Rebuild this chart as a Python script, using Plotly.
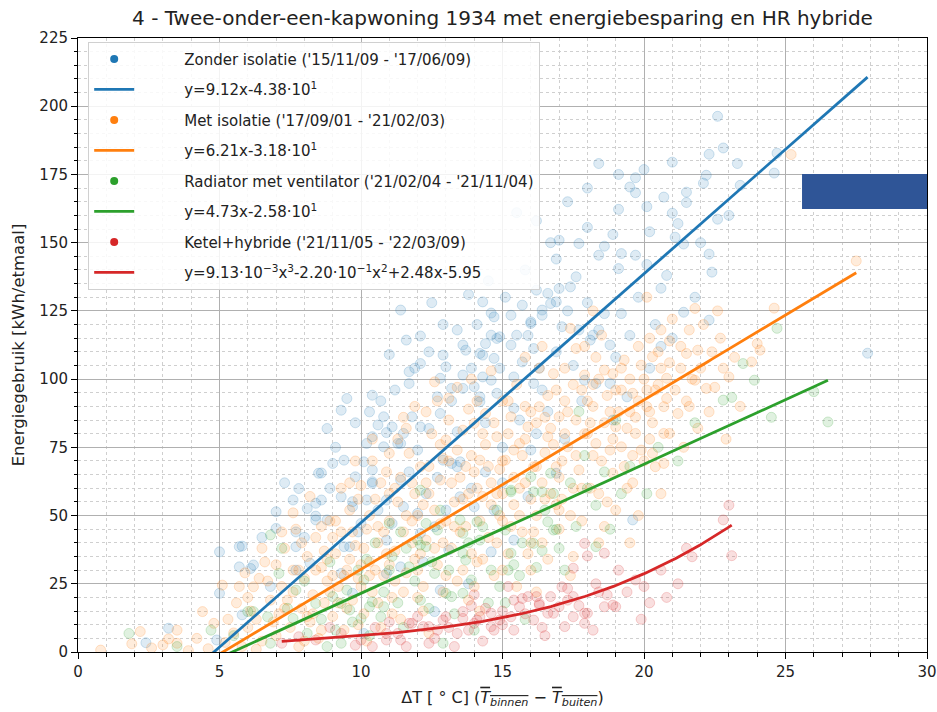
import plotly.graph_objects as go
import numpy as np

TITLE = "4 - Twee-onder-een-kapwoning 1934 met energiebesparing en HR hybride"

zonder_pts = [
    (22.6,196.3),(22.8,184.7),(22.3,182.4),(21.0,179.5),(23.3,179.0),(22.2,174.7),(22.1,171.8),(21.5,168.5),
    (21.5,164.7),(20.7,166.7),(23.4,171.0),(24.6,175.5),(24.7,182.8),(21.0,160.8),(21.2,157.0),(22.6,158.6),
    (21.1,152.0),(21.4,149.5),(22.3,145.8),(22.4,139.2),(20.8,138.0),(20.6,133.3),(21.4,124.5),(22.3,121.6),
    (27.9,109.5),(20.0,176.8),(19.7,173.8),(19.5,170.4),(19.7,168.3),(20.1,163.2),(19.1,162.2),(18.0,155.6),
    (18.9,153.0),(20.2,154.0),(16.7,150.0),(17.0,150.9),(17.7,149.7),(18.6,148.7),(18.4,145.4),(19.2,146.0),
    (19.7,145.4),(17.6,137.5),(19.1,140.5),(11.4,125.3),(14.3,128.3),(14.6,124.2),(14.7,122.8),(15.3,123.4),
    (15.7,127.1),(16.2,132.6),(16.6,131.4),(17.0,133.2),(17.4,133.8),(16.7,127.7),(16.0,120.4),(16.4,123.4),
    (17.1,119.2),(14.6,116.1),(15.5,116.1),(14.8,114.9),(11.6,114.3),(12.1,115.8),(13.6,112.5),(13.7,110.6),
    (12.9,108.8),(14.2,109.4),(14.7,107.6),(15.3,112.5),(15.7,106.3),(16.1,111.2),(12.1,105.7),(11.7,102.7),
    (11.7,98.4),(12.8,100.3),(13.2,96.6),(13.6,101.5),(14.3,100.8),(14.6,99.6),(15.4,100.8),(16.1,98.4),
    (16.4,96.0),(12.7,93.5),(13.2,92.0),(14.2,93.5),(14.8,94.8),(18.2,116.1),(18.4,118.0),(18.8,112.5),
    (18.1,114.3),(18.3,98.4),(18.8,98.4),(19.4,93.5),(17.9,99.6),(10.8,86.2),(11.1,82.5),(11.8,86.2),
    (12.8,87.4),(12.4,81.9),(11.3,76.4),(10.8,75.2),(13.4,80.7),(13.5,69.7),(12.9,70.3),(15.4,89.3),
    (15.6,85.0),(16.6,88.1),(13.0,104.5),(10.4,94.1),(9.5,92.9),(9.3,88.6),(8.8,81.9),(10.6,83.2),
    (10.9,80.4),(11.5,80.1),(10.4,78.9),(9.0,69.1),(9.4,70.3),(10.1,69.7),(10.4,62.4),(8.5,65.5),
    (7.6,55.7),(8.6,55.7),(8.1,52.6),(8.4,48.4),(7.0,45.3),(5.7,38.6),(5.0,36.7),(5.7,31.2),
    (6.2,31.9),(5.0,21.5),(5.8,13.6),(11.4,63.0),(10.9,55.7),(9.7,53.2),(11.5,53.2),(12.0,50.8),
    (10.0,47.1),(11.1,47.1),(9.6,38.6),(10.9,41.0),(11.4,31.2),(12.1,43.5),(12.6,45.9),(13.1,37.4),
    (14.7,52.0),(15.4,41.0),(14.6,36.7),(14.0,53.2),(13.5,56.9),(16.9,65.5),(19.6,48.4),(16.4,125.3),
    (16.9,128.3),(16.0,121.0),(14.9,115.5),(14.4,113.0),(14.3,108.8),(14.2,91.7),(14.0,97.2),(13.6,96.6),
    (12.1,82.5),(13.2,69.1),(13.4,67.9),(11.4,76.4),(10.2,76.4),(7.8,59.9),(7.0,51.4),(8.4,49.8),
    (7.7,44.0),(7.7,30.0),(9.3,28.8),(8.2,32.5),(10.9,28.8),(12.8,22.7),(9.7,21.5),(12.6,14.8),
    (5.8,38.8),(6.1,30.6),(2.4,3.4),(3.2,8.7),(4.9,4.4),(8.6,65.6),(9.8,64.2),(10.4,66.7),
    (8.4,54.5),(8.8,48.4),(7.7,38.6),(9.3,56.9),(9.7,55.1),(10.2,55.7),(10.4,61.8),(9.4,38.6),
    (10.1,6.8),(15.5,161.0),(16.2,158.0),(17.3,165.0),(18.4,179.0),(19.1,175.0),(18.0,170.0),(16.9,144.0),
    (15.8,140.0),(14.5,136.0),(13.8,131.0),(12.5,128.0),(11.0,109.0),(17.8,92.0),(18.9,85.0),(17.2,78.0),
    (16.0,74.0),(15.0,62.0),(13.9,60.0),(12.3,58.0),(17.5,105.0),(16.9,110.0),(20.4,120.0),(19.8,130.0),
    (19.2,124.0),(18.0,128.0),(20.1,142.0),(14.4,84.0),(12.2,33.0),(13.8,25.0),(15.9,57.0),
    (8.9,60.0),(9.1,75.0),(9.8,84.0),(10.3,88.0),(10.7,92.0),(11.2,96.0),(11.9,104.0),(12.4,110.0),
    (12.9,120.0),(13.4,118.0),(13.9,104.0),(14.1,120.0),(14.9,104.0),(15.1,130.0),(15.9,116.0),(16.3,104.0),
    (17.3,125.0),(17.7,118.0),(18.6,124.0),(19.0,108.0),(19.5,116.0),(20.2,104.0),(20.6,112.0),(21.0,115.0),
    (21.8,130.0),(22.0,150.0),(23.0,160.0),(12.0,74.0),(12.7,64.0),(13.0,52.0),(14.4,66.0),(15.0,75.0),
    (16.2,80.0),(11.7,66.0),(10.6,52.0),(9.9,44.0),(8.0,42.0),(6.5,42.0),(6.8,24.0),(7.3,62.0),
]

met_pts = [
    (0.8,0.7),(1.9,3.0),(2.6,1.5),(3.0,2.6),(3.5,3.2),(3.5,8.0),(4.2,5.0),(4.4,14.8),(4.6,1.2),(3.9,0.5),
    (5.1,24.5),(4.8,10.5),(5.2,3.5),(2.2,7.5),(3.2,4.8),
    (5.3,12),(5.5,7),(5.6,18),(5.8,2),(6.0,9),(6.2,23.9),(6.4,27),(6.1,15),(6.5,4),(6.6,33),(6.8,19),
    (6.9,11),(5.9,29),(6.3,1),
    (7.0,6),(7.1,14),(7.2,24),(7.3,38),(7.4,19),(7.5,9),(7.6,30),(7.7,45),(7.8,2),(7.9,16),(8.0,27),
    (8.1,35),(8.2,11),(8.3,21),(8.4,42),(8.5,5),(8.6,31),(8.7,18),(8.8,26),(8.9,48),(8.2,57),(8.6,8),(7.6,51),
    (9.0,13),(9.1,36),(9.2,24),(9.3,44),(9.4,8),(9.5,30),(9.6,52),(9.7,19),(9.8,39),(9.9,27),(10.0,61),
    (10.1,14),(10.2,45),(10.3,33),(10.4,22),(10.5,56),(10.6,40),(10.7,9),(10.8,28),(10.9,66),(11.0,48),
    (9.3,60),(10.2,4),(9.8,70),(10.6,18),
    (11.0,72.8),(11.1,20),(11.2,37),(11.3,55),(11.4,12),(11.5,44),(11.6,29),(11.7,72.8),(11.8,62),(11.9,34),
    (12.0,50),(12.1,67.9),(12.2,24),(12.3,41),(12.4,58),(12.5,80),(12.6,99),(12.7,32),(12.8,47),(12.9,71),
    (13.0,77.7),(13.1,85),(11.5,86),(12.2,15),(12.8,63),(11.9,90),(12.4,7),
    (13.2,38),(13.3,55),(13.4,26),(13.5,64),(13.6,81.3),(13.7,46),(13.8,19),(13.9,72),(14.0,83.8),(14.1,33),
    (14.2,70.3),(14.3,57),(14.4,87.4),(14.5,42),(14.6,62),(14.7,28),(14.8,78.9),(14.9,50),(15.0,92),
    (13.4,97),(14.2,15),(14.6,103),(13.8,89),(14.9,67),
    (15.1,70.3),(15.2,36),(15.3,86.2),(15.4,54),(15.5,24),(15.6,76.4),(15.7,44),(15.8,62),(15.9,82.5),
    (16.0,30),(16.1,67.9),(16.2,50),(16.3,89.9),(16.4,40),(16.5,73),(16.6,78.9),(16.7,58),(16.8,102),
    (16.9,67.9),(17.0,86.2),(15.5,98),(16.2,22),(15.8,108),(16.6,94),(17.0,45),
    (17.1,56),(17.2,80),(17.3,75.2),(17.4,118.6),(17.5,35),(17.6,85),(17.6,111.2),(17.7,66.7),(17.8,48),
    (17.9,101.5),(18.0,92),(18.1,60),(18.2,72),(18.3,76.4),(18.4,40),(18.5,116.1),(18.6,103.3),(18.7,55),
    (18.8,88),(18.9,65.5),(18.9,102),(19.0,82.5),(17.4,28),(18.2,125),(18.6,46),
    (19.2,75.2),(19.2,96),(19.3,107),(19.4,60),(19.5,88),(19.6,94.8),(19.7,80.1),(19.8,50),(19.9,105.1),
    (20.0,70),(20.1,89.9),(20.2,115),(20.3,72.8),(20.3,108.2),(20.4,67.9),(20.5,98),(20.6,58),(20.7,89.9),
    (20.7,80.1),(20.7,69.1),(20.8,92.9),(20.8,100.3),(20.9,80.1),(21.0,122),(19.5,40),(20.1,130),
    (21.2,87.4),(21.5,109.4),(21.6,118),(21.8,125.9),(21.8,99.6),(21.9,110.6),(22.2,96.6),(22.4,110),
    (22.6,125),(23.0,100.8),(23.4,90),(23.8,106.3),(24.0,113),(24.1,110.6),(24.6,126),(25.2,182.3),
    (27.5,143.3),(22.9,78),(21.4,75),
    (6.0,20),(6.3,12),(6.7,26),(7.0,32),(7.3,16),(7.6,22),(7.9,40),(8.1,13),(8.4,30),(8.7,37),
    (8.9,22),(8.0,4),(7.2,44),(6.5,38),(5.7,24),
    (9.1,48),(9.4,28),(9.6,34),(9.9,56),(10.1,38),(10.3,50),(10.5,30),(10.8,44),(11.0,58),(11.2,26),
    (11.4,64),(11.6,50),(11.8,40),(9.2,18),(10.0,24),(10.7,62),(11.3,78),(11.9,58),(9.7,44),(10.4,70),
    (11.1,14),(12.0,30),
    (12.2,54),(12.4,68),(12.6,38),(12.8,76),(13.0,48),(13.2,62),(13.4,74),(13.6,30),(13.8,58),(14.0,66),
    (14.2,48),(14.4,76),(14.6,54),(14.8,40),(15.0,70),(12.3,88),(13.1,93),(13.5,44),(14.1,92),(14.7,84),
    (12.9,22),(13.7,68),(14.3,34),(15.0,58),
    (15.2,80),(15.4,64),(15.6,50),(15.8,90),(16.0,56),(16.2,84),(16.4,62),(16.6,34),(16.8,76),(17.0,64),
    (17.2,92),(17.4,50),(17.6,72),(17.8,96),(15.3,46),(16.1,44),(16.9,54),(17.5,60),(15.7,72),(16.5,86),
    (17.9,80),(15.9,36),(16.3,104),
    (18.1,84),(18.3,108),(18.5,70),(18.7,94),(18.9,78),(19.1,88),(19.3,68),(19.5,100),(19.7,86),(19.9,74),
    (20.1,96),(20.3,84),(20.5,110),(18.4,58),(19.0,52),(19.6,62),(20.2,78),(20.6,118),(20.9,106),(18.2,98),
    (19.8,112),
    (21.1,96),(21.3,104),(21.6,90),(22.0,104),(22.3,88),(22.7,115),(21.9,82),(23.2,108),(22.5,97),
    (8.3,14),(8.8,34),(9.0,42),(9.5,16),(9.9,10),(10.3,28),(10.6,46),(10.9,36),(11.2,60),(11.5,22),
    (11.8,48),(12.1,36),(12.3,62),(12.6,52),(12.9,40),(13.1,70),(13.3,46),(13.6,56),(13.9,36),(14.1,60),
    (14.3,80),(14.5,68),(14.8,58),(15.0,48),(15.2,92),(15.4,74),(15.6,60),(15.8,78),(16.0,88),(16.2,68),
    (16.5,56),(16.7,82),(16.9,96),(17.1,70),(17.3,88),(17.5,98),(17.8,60),(18.0,80),(18.2,90),(18.4,100),
    (18.6,84),(18.8,74),(19.0,96),(19.2,104),(19.4,82),(19.6,72),(19.8,92),(20.0,100),(20.2,88),(20.4,96),
    (20.6,104),(12.0,20),(13.0,28),(14.0,24),(15.0,30),(16.0,40),(17.0,52),(11.0,32),(10.0,32),(9.0,28),
    (7.8,30),(8.6,46),(9.6,62),(10.4,78),(11.6,82),(12.7,92),(13.9,100),(16.4,112),(17.2,104),(17.9,112),
    (21.3,112),(21.7,100),(22.1,120),(20.9,114),(21.5,92),(22.8,104),
]

radiator_pts = [
    (26.5,84.3),(24.5,86.0),(22.8,92.3),(23.1,93.3),(26.0,95.4),(24.7,118.6),(23.5,105.7),(23.9,99.6),
    (16.0,64.2),(16.4,58.7),(16.8,58.1),(18.3,53.8),(16.6,47.7),(16.9,44.9),(16.1,39.8),(16.4,37.2),
    (18.3,38.6),(15.2,30.0),(15.4,32.0),(14.2,41.0),(13.6,36.2),(13.5,48.4),(14.1,47.7),(12.7,44.7),
    (12.1,39.2),(11.7,31.2),(11.0,30.0),(12.1,19.0),(12.4,16.0),(13.2,20.3),(13.6,21.5),(10.8,16.6),
    (12.9,3.2),(12.1,59.3),(15.3,58.7),(1.8,6.8),(6.8,42.9),(6.0,14.8),(4.7,8.0),(3.5,2.0),
    (8.4,17.8),(9.0,20.3),(9.5,22.7),(9.6,15.4),(10.1,26.4),(10.3,16.6),(6.8,3.2),(7.6,12.3),
    (9.3,3.2),(10.4,18.4),(10.0,12.3),(10.7,12.9),(9.3,17.8),(11.1,35.0),(11.6,38.0),(12.0,41.0),
    (12.3,38.6),(12.6,28.8),(13.0,21.5),(13.9,26.4),(13.7,33.7),(13.6,43.5),(14.3,45.9),(15.1,44.7),
    (15.3,36.2),(15.6,28.0),(16.8,44.7),(16.1,58.7),(15.3,59.3),(12.3,47.1),(11.0,47.1),(7.1,28.8),
    (6.7,12.9),(6.2,14.8),(7.7,22.7),(8.1,6.8),(8.8,2.0),(17.7,88.1),(19.0,85.0),(16.7,65.5),
    (14.8,52.0),(17.4,62.0),(19.5,68.0),(20.5,75.0),(21.2,70.0),(18.8,45.0),(17.2,30.0),(14.5,18.0),
    (11.5,9.0),(15.8,12.0),(10.5,40.0),(8.9,33.0),(5.5,6.0),(7.2,38.0),(20.1,58.0),(21.8,84.0),
    (7.4,16.0),(8.0,26.0),(8.6,12.0),(9.1,8.0),(9.9,30.0),(10.2,34.0),(10.8,22.0),(11.3,18.0),
    (11.9,26.0),(12.5,33.0),(13.1,30.0),(13.3,14.0),(13.8,40.0),(14.6,30.0),(14.9,24.0),(15.7,40.0),
    (16.2,31.0),(17.0,38.0),(17.6,46.0),(18.0,60.0),(18.6,66.0),(19.2,58.0),(12.8,52.0),(11.4,44.0),
    (10.3,6.0),(9.7,11.0),(14.0,8.0),(15.1,18.0),(16.5,52.0),(17.9,72.0),
]

ketel_pts = [
    (23.0,53.8),(22.8,48.4),(23.1,35.3),(21.7,34.9),(17.9,39.8),(18.0,35.2),(18.6,36.2),(17.5,30.7),
    (17.1,23.9),(18.7,20.9),(19.0,16.6),(18.6,16.6),(18.0,14.2),(17.5,12.9),(17.9,10.5),(16.6,14.2),
    (16.3,17.8),(15.7,19.6),(15.6,16.6),(15.3,12.9),(14.9,11.7),(14.6,9.3),(14.2,12.9),(14.0,10.5),
    (13.6,12.3),(13.0,12.9),(13.4,6.8),(12.7,8.0),(12.2,9.3),(11.7,10.5),(11.4,4.4),(10.9,6.8),
    (12.4,3.2),(15.4,8.0),(17.0,16.6),(17.3,19.0),(16.2,20.3),(19.7,26.4),(17.3,23.3),(17.5,20.3),
    (16.7,20.3),(15.9,20.3),(16.3,17.2),(16.8,14.2),(17.9,14.2),(18.9,17.2),(15.4,19.0),(14.6,14.2),
    (14.1,11.7),(13.6,14.8),(12.9,11.7),(12.4,9.3),(11.8,10.5),(11.3,6.8),(10.9,4.4),(10.0,4.4),
    (9.3,6.8),(8.4,4.4),(7.8,5.6),(7.2,3.2),(11.6,2.0),(13.3,2.0),(14.7,8.0),(16.1,11.7),
    (17.2,9.3),(19.4,22.0),(20.2,18.0),(18.3,25.0),(15.0,15.0),(13.9,17.0),(12.0,13.0),(10.5,9.0),
    (9.8,2.5),(8.9,9.0),(14.3,4.0),(16.5,6.0),(19.9,12.0),(18.2,8.0),(20.6,30.0),(21.2,25.0),
    (15.2,24.0),(14.0,21.0),
    (10.4,2.0),(11.0,11.0),(12.6,5.0),(13.1,9.0),(13.8,8.0),(14.4,16.0),(15.0,10.0),(15.8,14.0),
    (16.4,9.0),(17.7,17.0),(18.4,22.0),(19.1,30.0),(20.0,24.0),(20.8,20.0),(21.5,38.0),
]

# ---- fitted polynomials as printed in the legend ----
fit_zonder = [9.12, -4.38e1]
fit_met = [6.21, -3.18e1]
fit_radiator = [4.73, -2.58e1]
fit_ketel = [9.13e-3, -2.20e-1, 2.48, -5.95]

labels_pts = ["Zonder isolatie ('15/11/09 - '17/06/09)",
              "Met isolatie ('17/09/01 - '21/02/03)",
              "Radiator met ventilator ('21/02/04 - '21/11/04)",
              "Ketel+hybride ('21/11/05 - '22/03/09)"]
labels_fit = ["y=9.12x-4.38·10<sup>1</sup>",
              "y=6.21x-3.18·10<sup>1</sup>",
              "y=4.73x-2.58·10<sup>1</sup>",
              "y=9.13·10<sup>−3</sup>x<sup>3</sup>-2.20·10<sup>−1</sup>x<sup>2</sup>+2.48x-5.95"]

colors = ["#1f77b4", "#ff7f0e", "#2ca02c", "#d62728"]
rgba = ["31,119,180", "255,127,14", "44,160,44", "214,39,40"]

series = [zonder_pts, met_pts, radiator_pts, ketel_pts]
fits = [fit_zonder, fit_met, fit_radiator, fit_ketel]

PAD = "\u2003\u2003\u2003"  # gap between legend handle and label

fig = go.Figure()

# scatter clouds (no legend)
for pts, c in zip(series, rgba):
    xs = [p[0] for p in pts]
    ys = [p[1] for p in pts]
    fig.add_trace(go.Scatter(
        x=xs, y=ys, mode="markers", showlegend=False, hoverinfo="skip",
        marker=dict(size=10, color=f"rgba({c},0.15)",
                    line=dict(width=1, color=f"rgba({c},0.2)")),
    ))

# fit lines over each series' dT range
line_traces = []
for pts, coef, col in zip(series, fits, colors):
    xs = [p[0] for p in pts]
    xl = np.linspace(min(xs), max(xs), 200)
    yl = np.polyval(coef, xl)
    line_traces.append((xl, yl, col))

# legend entries + lines in legend order
for i in range(4):
    fig.add_trace(go.Scatter(
        x=[None], y=[None], mode="markers", name=PAD + labels_pts[i],
        legendgroup=f"p{i}", marker=dict(size=8, color=colors[i]),
    ))
    xl, yl, col = line_traces[i]
    fig.add_trace(go.Scatter(
        x=xl, y=yl, mode="lines", name=PAD + labels_fit[i], legendgroup=f"l{i}",
        line=dict(color=col, width=2.8), hoverinfo="skip",
    ))

axis_common = dict(
    showline=True, linecolor="black", linewidth=1, mirror=True,
    ticks="outside", ticklen=6, tickwidth=1, tickcolor="black",
    showgrid=True, gridcolor="#b0b0b0", gridwidth=1, zeroline=False,
    tickfont=dict(size=15, color="#222"), automargin=False,
)

xtitle = ("ΔT [ ° C] (<span style=\"text-decoration:overline\"><i>T</i><sub><i>binnen</i></sub></span>"
          " − <span style=\"text-decoration:overline\"><i>T</i><sub><i>buiten</i></sub></span>)")

fig.update_layout(
    width=937, height=712,
    margin=dict(l=78, r=10, t=38, b=60),
    paper_bgcolor="white", plot_bgcolor="white",
    font=dict(family="DejaVu Sans", size=15, color="#222"),
    title=dict(text=TITLE, x=0.5, xref="paper", xanchor="center",
               y=1 - 18 / 712, yref="container", yanchor="middle",
               font=dict(size=20, color="#222"), automargin=False),
    xaxis=dict(range=[0, 30], dtick=5, tick0=0,
               minor=dict(dtick=1, ticks="outside", ticklen=3.5, tickcolor="black",
                          showgrid=True, gridcolor="#cfcfcf", griddash="dot", gridwidth=1),
               title=dict(text=xtitle, standoff=11, font=dict(size=16)),
               **axis_common),
    yaxis=dict(range=[0, 225], dtick=25, tick0=0,
               minor=dict(dtick=5, ticks="outside", ticklen=3.5, tickcolor="black",
                          showgrid=True, gridcolor="#cfcfcf", griddash="dot", gridwidth=1),
               title=dict(text="Energiegebruik [kWh/etmaal]", standoff=10, font=dict(size=16.5)),
               **axis_common),
    legend=dict(x=0.012, y=0.994, xanchor="left", yanchor="top",
                bgcolor="rgba(255,255,255,0.85)", bordercolor="#d0d0d0", borderwidth=1,
                font=dict(size=15, color="#222"), tracegroupgap=8, itemwidth=40),
    shapes=[dict(type="rect", xref="paper", yref="paper",
                 x0=0.8528, x1=1.0, y0=0.7215, y1=0.7785,
                 fillcolor="#2f5597", line=dict(width=0), layer="above")],
)

fig.write_html("out.html", config={"displayModeBar": False},
               post_script="document.body.style.margin='0px';")
